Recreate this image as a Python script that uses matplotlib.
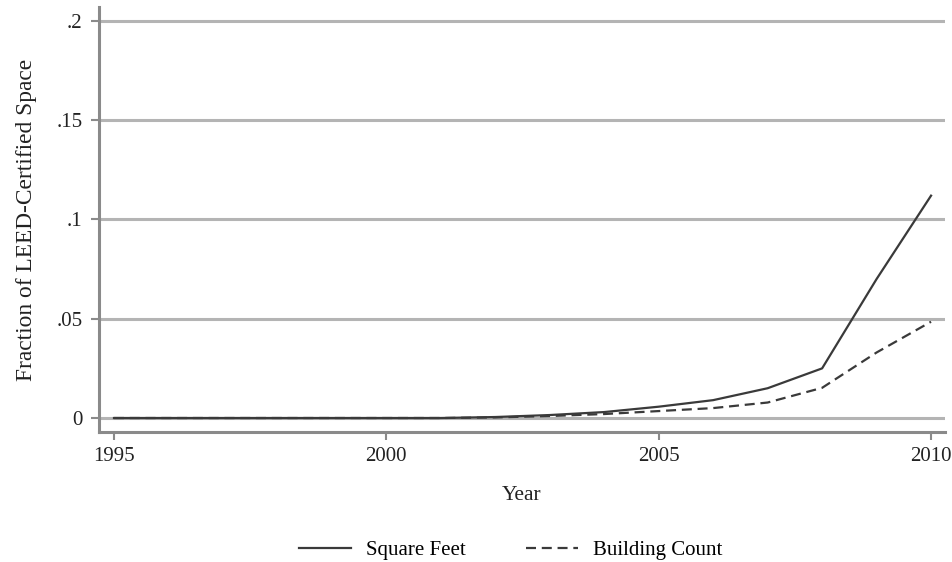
import matplotlib
matplotlib.use("Agg")
import matplotlib.pyplot as plt

years = [1995, 1996, 1997, 1998, 1999, 2000, 2001, 2002, 2003, 2004, 2005, 2006, 2007, 2008, 2009, 2010]
square_feet = [0, 0, 0, 0, 0, 0, 0, 0.0005, 0.0015, 0.003, 0.0057, 0.009, 0.015, 0.025, 0.070, 0.112]
building_count = [0, 0, 0, 0, 0, 0, 0, 0.0003, 0.001, 0.002, 0.0035, 0.005, 0.0078, 0.0152, 0.033, 0.0485]

y_ticks = [0, 0.05, 0.1, 0.15, 0.2]
y_tick_labels = ["0", ".05", ".1", ".15", ".2"]
x_ticks = [1995, 2000, 2005, 2010]

plt.rcParams["font.family"] = ["Liberation Serif", "DejaVu Serif"]

fig = plt.figure(figsize=(9.53, 5.62), dpi=100)
ax = fig.add_axes([0.1039, 0.2313, 0.8877, 0.7562])

grid_col = "#b4b4b4"
spine_col = "#8a8a8a"
line_col = "#3a3a3a"

for yv in y_ticks:
    ax.axhline(yv, color=grid_col, lw=2.2, zorder=1)

ax.plot(years, square_feet, color=line_col, lw=1.6, label="Square Feet", zorder=3)
ax.plot(years, building_count, color=line_col, lw=1.6, ls=(0, (4.5, 2.6)), label="Building Count", zorder=3)

ax.set_xlim(1994.725, 2010.256)
ax.set_ylim(-0.00705, 0.207)
ax.set_xticks(x_ticks)
ax.set_yticks(y_ticks)
ax.set_yticklabels(y_tick_labels)

for s in ["top", "right"]:
    ax.spines[s].set_visible(False)
for s in ["left", "bottom"]:
    ax.spines[s].set_color(spine_col)
    ax.spines[s].set_linewidth(2.2)

ax.tick_params(axis="both", colors=spine_col, width=1.5, length=6, labelsize=15,
               labelcolor="#222222")
ax.tick_params(axis="x", pad=5)
ax.tick_params(axis="y", pad=6)

ax.set_xlabel("Year", fontsize=15.5, labelpad=14, color="#222222")
ax.set_ylabel("Fraction of LEED-Certified Space", fontsize=16.8, labelpad=14, color="#222222")

fig.legend(loc="center", bbox_to_anchor=(0.536, 0.021), ncol=2, frameon=False,
           fontsize=15, handlelength=2.5, handletextpad=0.7, columnspacing=2.9)

fig.savefig("out.png", dpi=100)
